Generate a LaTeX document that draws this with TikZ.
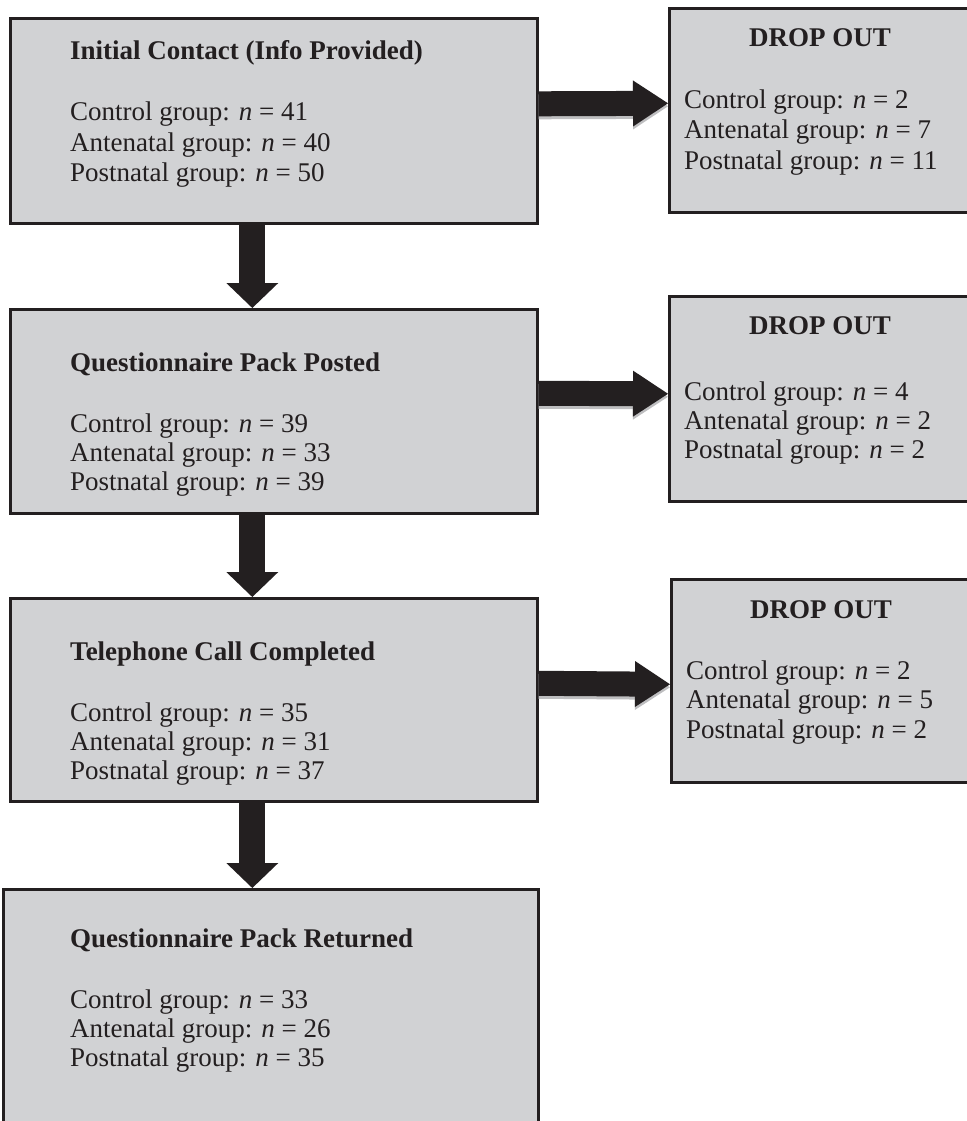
\documentclass[tikz,border=0pt]{standalone}
\usepackage{fontspec}
\setmainfont{Liberation Serif}
\usetikzlibrary{arrows.meta}
\definecolor{boxgray}{RGB}{209,210,212}
\definecolor{ink}{RGB}{35,31,32}
\definecolor{shade}{RGB}{190,190,192}
\begin{document}
\begin{tikzpicture}[x=1pt,y=-1pt,
  stage/.style={draw=ink, line width=2.6pt, fill=boxgray, anchor=north west, inner sep=0pt, minimum width=527pt},
  dropbox/.style={draw=ink, line width=2.6pt, fill=boxgray, anchor=north west, inner sep=0pt, minimum width=340pt},
  txt/.style={anchor=base west, inner sep=0pt, text=ink, font=\fontsize{27}{30}\selectfont},
  ttl/.style={anchor=base west, inner sep=0pt, text=ink, font=\fontsize{27}{30}\selectfont\bfseries},
  dttl/.style={anchor=base, inner sep=0pt, text=ink, font=\fontsize{27}{30}\selectfont\bfseries},
  downflow/.style={draw=ink, line width=26pt, -{Triangle[width=52pt,length=25pt,line width=0pt]}},
  sideflow/.style={draw=ink, line width=25pt, -{Triangle[width=46pt,length=35pt,line width=0pt]}},
  sideshade/.style={draw=shade, line width=25pt, -{Triangle[width=46pt,length=35pt,line width=0pt]}}
]
\useasboundingbox (0,0) rectangle (966,1121);

% main stages
\node[stage, minimum height=205pt] (b1) at (9,17) {};
\node[stage, minimum height=204pt] (b2) at (9,308) {};
\node[stage, minimum height=203pt] (b3) at (9,597) {};
\node[stage, minimum width=535pt, minimum height=260pt] (b4) at (2,888) {};

% drop-out boxes
\node[dropbox, minimum height=204pt] (d1) at (668,7) {};
\node[dropbox, minimum height=205pt] (d2) at (668,295) {};
\node[dropbox, minimum height=203pt] (d3) at (670,578) {};

% connectors
\draw[downflow] ([xshift=-21.5pt]b1.south) -- ([xshift=-21.5pt]b2.north);
\draw[downflow] ([xshift=-21.5pt]b2.south) -- ([xshift=-21.5pt]b3.north);
\draw[downflow] ([xshift=-21.5pt]b3.south) -- ([xshift=-18.5pt]b4.north);

\draw[sideshade] ([yshift=14pt]b1.east) -- ([yshift=4pt]d1.west);
\draw[sideflow] ([yshift=17pt]b1.east) -- ([yshift=7pt]d1.west);
\draw[sideshade] ([yshift=15pt]b2.east) -- ([yshift=2pt]d2.west);
\draw[sideflow] ([yshift=18pt]b2.east) -- ([yshift=5pt]d2.west);
\draw[sideshade] ([yshift=13.5pt]b3.east) -- ([yshift=-6.5pt]d3.west);
\draw[sideflow] ([yshift=16.5pt]b3.east) -- ([yshift=-3.5pt]d3.west);

% texts of stage 1
\node[ttl] (b1t) at (70,60) {Initial Contact (Info Provided)};
\node[txt] (b1a) at (70,121) {Control group: \textit{n} = 41};
\node[txt] (b1b) at (70,151) {Antenatal group: \textit{n} = 40};
\node[txt] (b1c) at (70,181) {Postnatal group: \textit{n} = 50};

% texts of stage 2
\node[ttl] (b2t) at (70,371) {Questionnaire Pack Posted};
\node[txt] (b2a) at (70,432) {Control group: \textit{n} = 39};
\node[txt] (b2b) at (70,461) {Antenatal group: \textit{n} = 33};
\node[txt] (b2c) at (70,490) {Postnatal group: \textit{n} = 39};

% texts of stage 3
\node[ttl] (b3t) at (70,660) {Telephone Call Completed};
\node[txt] (b3a) at (70,721) {Control group: \textit{n} = 35};
\node[txt] (b3b) at (70,750) {Antenatal group: \textit{n} = 31};
\node[txt] (b3c) at (70,779) {Postnatal group: \textit{n} = 37};

% texts of stage 4
\node[ttl] (b4t) at (70,947) {Questionnaire Pack Returned};
\node[txt] (b4a) at (70,1008) {Control group: \textit{n} = 33};
\node[txt] (b4b) at (70,1037) {Antenatal group: \textit{n} = 26};
\node[txt] (b4c) at (70,1066) {Postnatal group: \textit{n} = 35};

% drop-out texts
\node[dttl] (d1t) at (820,47) {DROP OUT};
\node[txt] (d1a) at (684,109) {Control group: \textit{n} = 2};
\node[txt] (d1b) at (684,139) {Antenatal group: \textit{n} = 7};
\node[txt] (d1c) at (684,169) {Postnatal group: \textit{n} = 11};

\node[dttl] (d2t) at (820,334) {DROP OUT};
\node[txt] (d2a) at (684,400) {Control group: \textit{n} = 4};
\node[txt] (d2b) at (684,429) {Antenatal group: \textit{n} = 2};
\node[txt] (d2c) at (684,458) {Postnatal group: \textit{n} = 2};

\node[dttl] (d3t) at (821,618) {DROP OUT};
\node[txt] (d3a) at (686,679) {Control group: \textit{n} = 2};
\node[txt] (d3b) at (686,708) {Antenatal group: \textit{n} = 5};
\node[txt] (d3c) at (686,738) {Postnatal group: \textit{n} = 2};
\end{tikzpicture}
\end{document}
